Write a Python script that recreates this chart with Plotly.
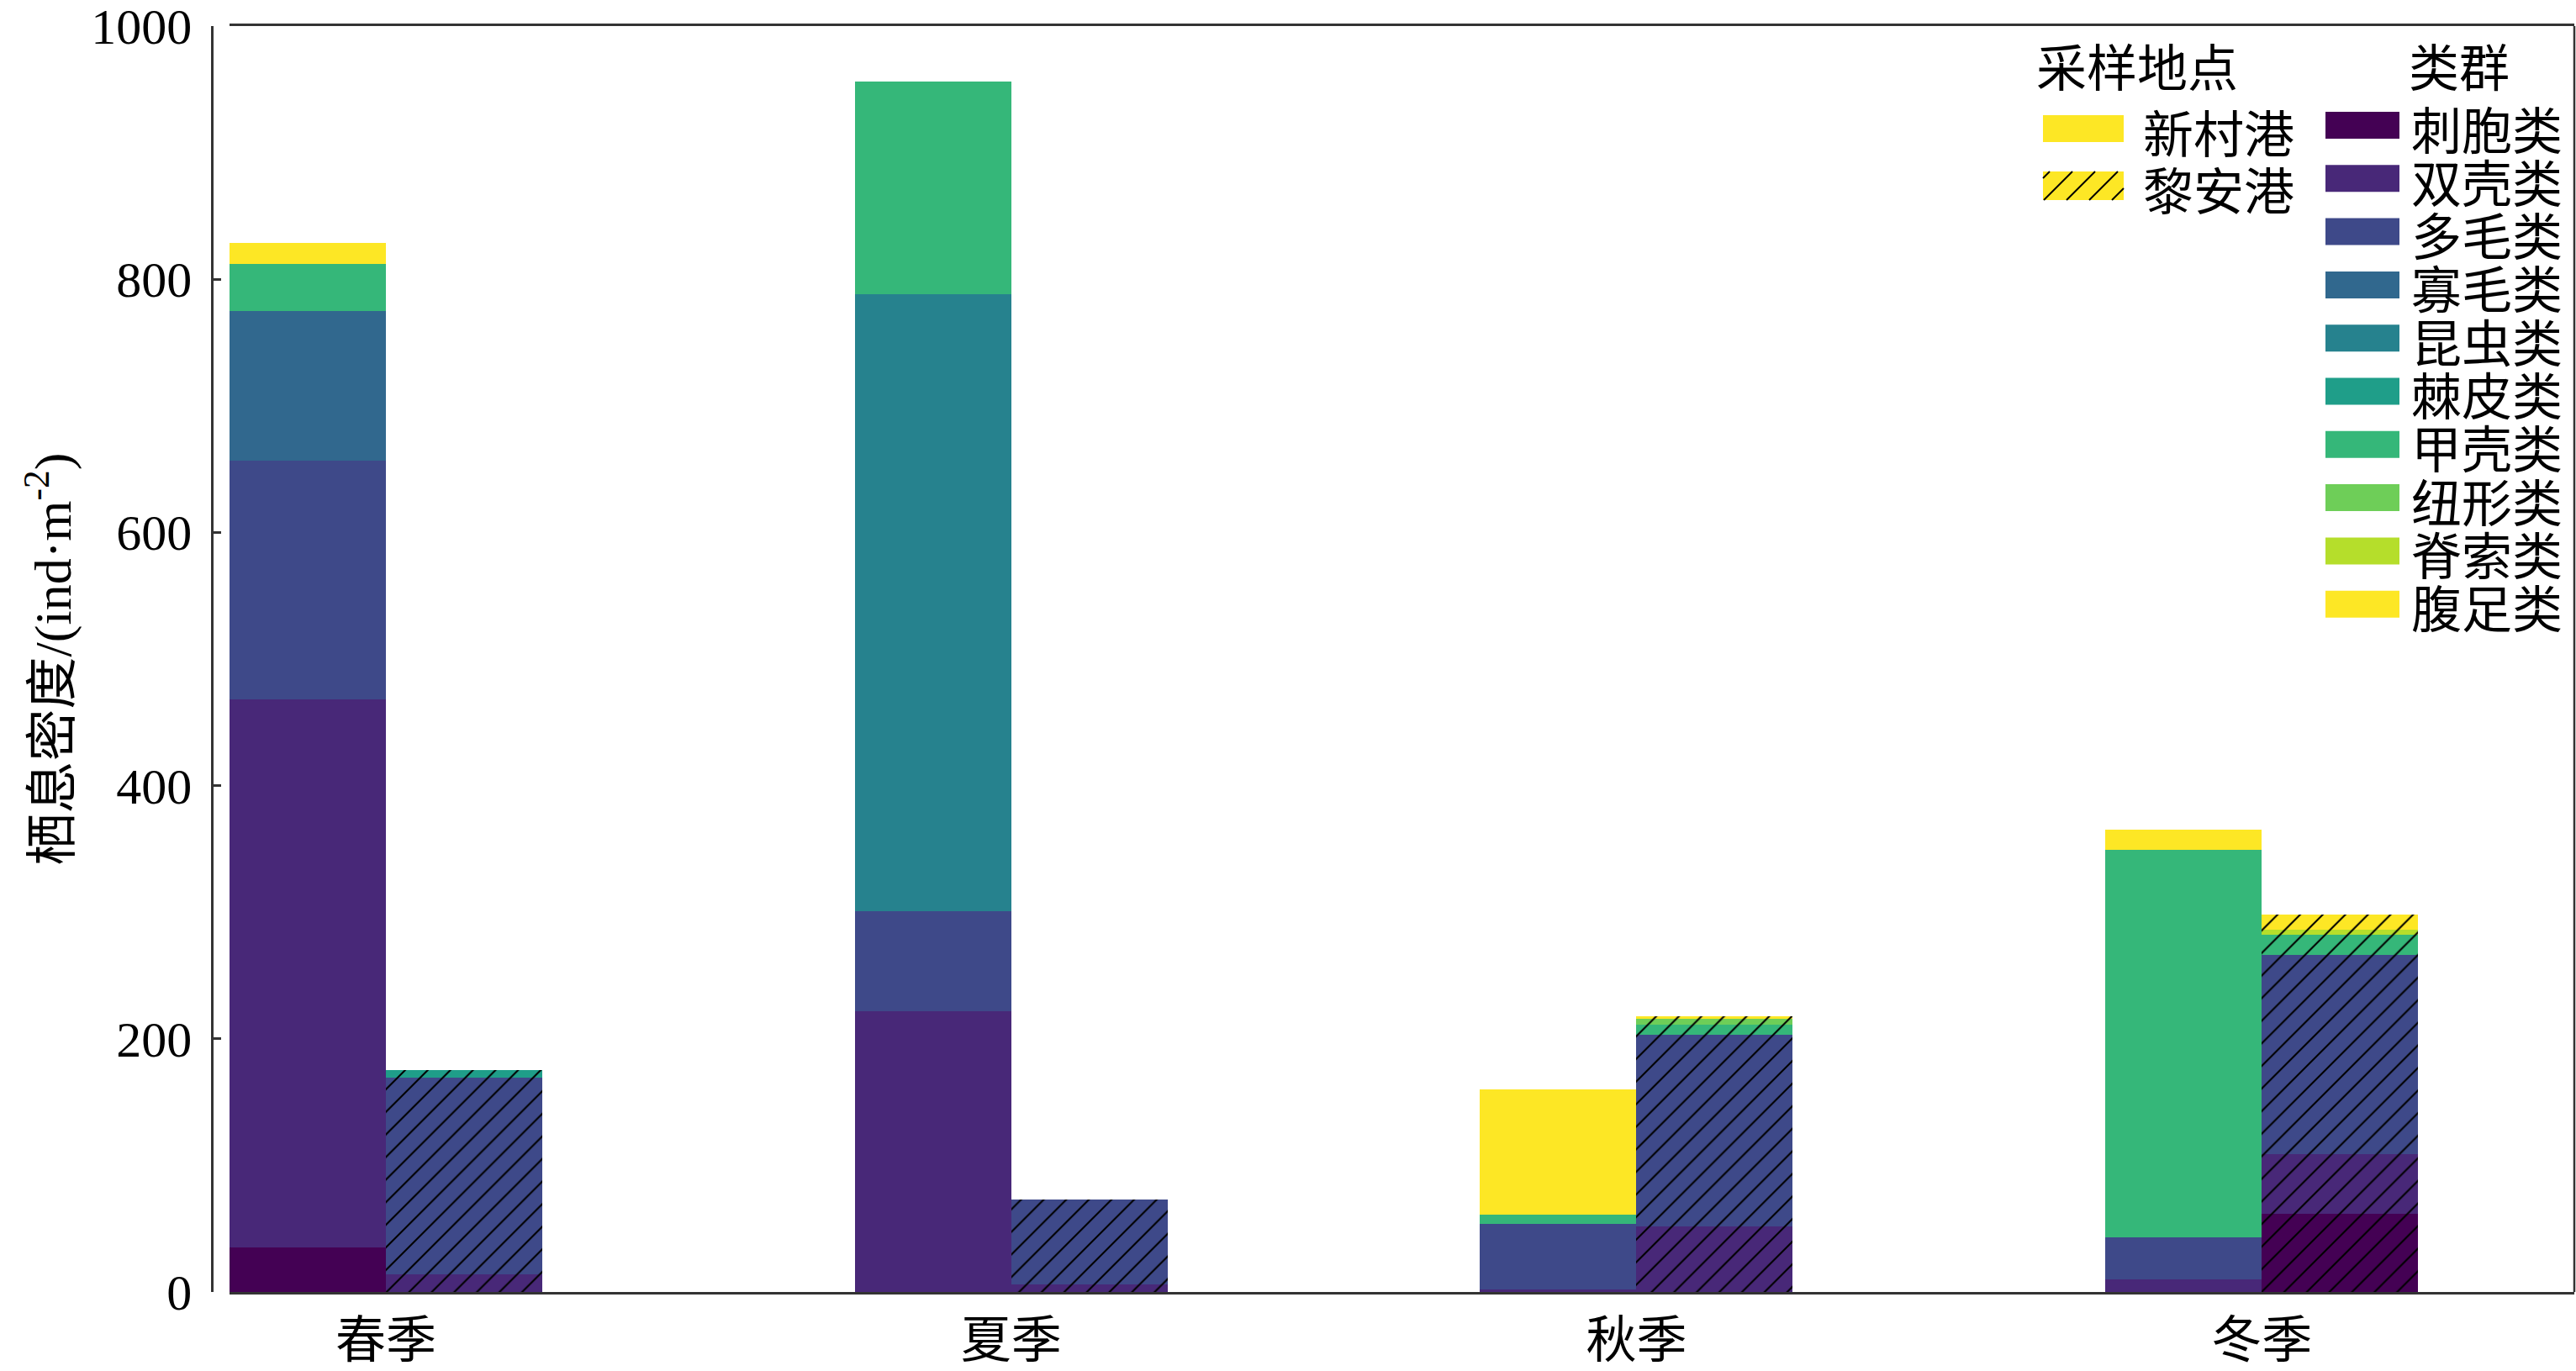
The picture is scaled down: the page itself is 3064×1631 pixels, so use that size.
import plotly.graph_objects as go

# ---------------- data ----------------
seasons = ["春季", "夏季", "秋季", "冬季"]
locations = ["新村港", "黎安港"]
groups = ["刺胞类", "双壳类", "多毛类", "寡毛类", "昆虫类",
          "棘皮类", "甲壳类", "纽形类", "脊索类", "腹足类"]
group_colors = ["#440154", "#482878", "#3e4989", "#31688e", "#26828e",
                "#1f9e89", "#35b779", "#6ece58", "#b5de2b", "#fde725"]

# density (ind·m^-2) per group, order: spring, summer, autumn, winter
xincun_cnidaria = [35, 0, 0, 0]
xincun_bivalvia = [433, 222, 2, 10]
xincun_polychaeta = [189, 79, 52, 33]
xincun_oligochaeta = [118, 0, 0, 0]
xincun_insecta = [0, 487, 0, 0]
xincun_echinodermata = [0, 0, 0, 0]
xincun_crustacea = [37, 168, 7, 306]
xincun_nemertea = [0, 0, 0, 0]
xincun_chordata = [0, 0, 0, 0]
xincun_gastropoda = [17, 0, 99, 16]

lian_cnidaria = [0, 0, 0, 62]
lian_bivalvia = [14, 6, 52, 47]
lian_polychaeta = [155, 67, 151, 157]
lian_oligochaeta = [0, 0, 0, 0]
lian_insecta = [0, 0, 0, 0]
lian_echinodermata = [6, 0, 0, 0]
lian_crustacea = [0, 0, 8, 16]
lian_nemertea = [0, 0, 5, 0]
lian_chordata = [0, 0, 0, 4]
lian_gastropoda = [0, 0, 2, 12]

xincun_rows = [xincun_cnidaria, xincun_bivalvia, xincun_polychaeta, xincun_oligochaeta,
               xincun_insecta, xincun_echinodermata, xincun_crustacea, xincun_nemertea,
               xincun_chordata, xincun_gastropoda]
lian_rows = [lian_cnidaria, lian_bivalvia, lian_polychaeta, lian_oligochaeta,
             lian_insecta, lian_echinodermata, lian_crustacea, lian_nemertea,
             lian_chordata, lian_gastropoda]

y_ticks = [0, 200, 400, 600, 800, 1000]

# ---------------- layout geometry ----------------
W, H = 3064, 1631
ML, MR, MT, MB = 252, 2, 31, 94
PW = W - ML - MR
PH = H - MT - MB
BAR_W = 0.25

CJK = "Noto Sans CJK SC"
SERIF = "Liberation Serif, Noto Sans CJK SC"
AXC = "#333333"


def px_x(px):
    return (px - ML) / PW


def px_y(py):
    return (H - MB - py) / PH


fig = go.Figure()

xpos = list(range(len(seasons)))
for i, g in enumerate(groups):
    fig.add_trace(go.Bar(
        x=[p - BAR_W / 2 for p in xpos], y=xincun_rows[i], width=BAR_W,
        name=g, marker=dict(color=group_colors[i], line=dict(width=0)),
        showlegend=False, hovertemplate=locations[0] + " " + g + ": %{y}<extra></extra>"))
for i, g in enumerate(groups):
    fig.add_trace(go.Bar(
        x=[p + BAR_W / 2 for p in xpos], y=lian_rows[i], width=BAR_W,
        name=g, marker=dict(color=group_colors[i], line=dict(width=0),
                            pattern=dict(shape="/", fgcolor="#000000", fgopacity=1,
                                         size=19, solidity=0.11)),
        showlegend=False, hovertemplate=locations[1] + " " + g + ": %{y}<extra></extra>"))

shapes = []
annotations = []

# right frame line
shapes.append(dict(type="line", xref="paper", yref="paper", x0=1, x1=1, y0=0, y1=1,
                   line=dict(color=AXC, width=2.5), layer="above"))

# ---------------- custom legend ----------------
LEG_FONT = 60
annotations.append(dict(text="采样地点", xref="paper", yref="paper", x=px_x(2420), y=px_y(77),
                        xanchor="left", yanchor="middle", showarrow=False,
                        font=dict(family=CJK, size=LEG_FONT, color="#000")))
annotations.append(dict(text="类群", xref="paper", yref="paper", x=px_x(2863), y=px_y(77),
                        xanchor="left", yanchor="middle", showarrow=False,
                        font=dict(family=CJK, size=LEG_FONT, color="#000")))

loc_rows = [(137, 169), (204, 238)]
for k, loc in enumerate(locations):
    y0, y1 = loc_rows[k]
    x0, x1 = 2430, 2526
    shapes.append(dict(type="rect", xref="paper", yref="paper",
                       x0=px_x(x0), x1=px_x(x1), y0=px_y(y1), y1=px_y(y0),
                       fillcolor="#fde725", line=dict(width=0), layer="above"))
    if k == 1:
        wpx, hpx = x1 - x0, y1 - y0
        step = 27
        c = -hpx + 8
        while c < wpx:
            vs = max(0, -c)
            ve = min(hpx, wpx - c)
            if ve > vs:
                shapes.append(dict(type="line", xref="paper", yref="paper",
                                   x0=px_x(x0 + vs + c), y0=px_y(y1 - vs),
                                   x1=px_x(x0 + ve + c), y1=px_y(y1 - ve),
                                   line=dict(color="#000", width=2), layer="above"))
            c += step
    annotations.append(dict(text=loc, xref="paper", yref="paper", x=px_x(2547),
                            y=px_y((y0 + y1) / 2 + 2), xanchor="left", yanchor="middle",
                            showarrow=False, font=dict(family=CJK, size=LEG_FONT, color="#000")))

for i, g in enumerate(groups):
    cy = 149 + 63.3 * i
    shapes.append(dict(type="rect", xref="paper", yref="paper",
                       x0=px_x(2766), x1=px_x(2854), y0=px_y(cy + 16), y1=px_y(cy - 16),
                       fillcolor=group_colors[i], line=dict(width=0), layer="above"))
    annotations.append(dict(text=g, xref="paper", yref="paper", x=px_x(2866), y=px_y(cy + 2),
                            xanchor="left", yanchor="middle", showarrow=False,
                            font=dict(family=CJK, size=LEG_FONT, color="#000")))

fig.update_layout(
    width=W, height=H,
    margin=dict(l=ML, r=MR, t=MT, b=MB, autoexpand=False),
    paper_bgcolor="white", plot_bgcolor="white",
    barmode="stack",
    showlegend=False,
    shapes=shapes, annotations=annotations,
    xaxis=dict(domain=[21 / PW, 1], range=[-0.25, 3.5],
               tickmode="array", tickvals=xpos, ticktext=seasons,
               showline=True, mirror=True, linecolor=AXC, linewidth=2.5,
               ticks="", showgrid=False, zeroline=False,
               tickfont=dict(family=CJK, size=60, color="#000"),
               ticklabelstandoff=3, ticklabeloverflow="allow"),
    yaxis=dict(anchor="free", position=0, range=[0, 1000],
               tickmode="array", tickvals=y_ticks,
               showline=True, linecolor=AXC, linewidth=2.5,
               ticks="inside", ticklen=9, tickwidth=2.5, tickcolor=AXC,
               showgrid=False, zeroline=False,
               tickfont=dict(family=SERIF, size=60, color="#000"),
               ticklabelstandoff=11, ticklabeloverflow="allow",
               title=dict(text="栖息密度/(ind·m<sup>-2</sup>)", standoff=2,
                          font=dict(family=SERIF, size=62, color="#000"))),
)

fig.write_html("out.html", config={"displayModeBar": False},
               post_script="document.body.style.margin='0';")
